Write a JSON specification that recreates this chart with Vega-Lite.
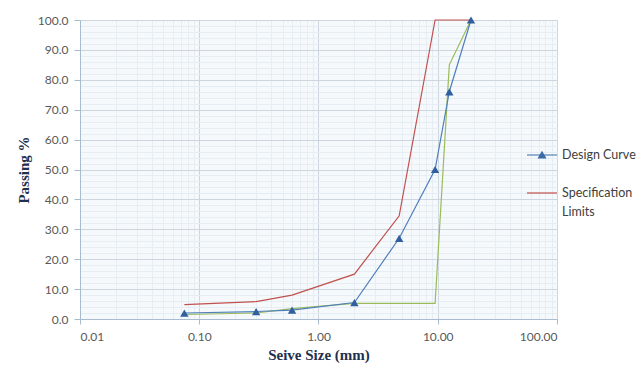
{
  "$schema": "https://vega.github.io/schema/vega-lite/v6.json",
  "width": 477,
  "height": 299,
  "autosize": "none",
  "padding": {"left": 80, "top": 20, "right": 82, "bottom": 48},
  "background": "#ffffff",
  "config": {"view": {"fill": "#f6f9fc", "stroke": null}, "font": "Lato", "style": {"guide-label": {"lineHeight": 19}}},
  "data": {
    "values": [
      {"size": 0.075, "passing": 2.0, "series": "Design Curve"},
      {"size": 0.3, "passing": 2.5, "series": "Design Curve"},
      {"size": 0.6, "passing": 3.0, "series": "Design Curve"},
      {"size": 2.0, "passing": 5.5, "series": "Design Curve"},
      {"size": 4.75, "passing": 27.0, "series": "Design Curve"},
      {"size": 9.5, "passing": 50.0, "series": "Design Curve"},
      {"size": 12.5, "passing": 76.0, "series": "Design Curve"},
      {"size": 19.0, "passing": 100.0, "series": "Design Curve"},
      {"size": 0.075, "passing": 4.8, "series": "Specification Limits"},
      {"size": 0.3, "passing": 5.8, "series": "Specification Limits"},
      {"size": 0.6, "passing": 8.0, "series": "Specification Limits"},
      {"size": 2.0, "passing": 15.0, "series": "Specification Limits"},
      {"size": 4.75, "passing": 34.5, "series": "Specification Limits"},
      {"size": 9.5, "passing": 100.0, "series": "Specification Limits"},
      {"size": 19.0, "passing": 100.0, "series": "Specification Limits"},
      {"size": 0.075, "passing": 1.5, "series": "Lower Limit"},
      {"size": 0.3, "passing": 2.0, "series": "Lower Limit"},
      {"size": 0.6, "passing": 3.5, "series": "Lower Limit"},
      {"size": 2.0, "passing": 5.2, "series": "Lower Limit"},
      {"size": 4.75, "passing": 5.2, "series": "Lower Limit"},
      {"size": 9.5, "passing": 5.2, "series": "Lower Limit"},
      {"size": 12.5, "passing": 85.0, "series": "Lower Limit"},
      {"size": 19.0, "passing": 100.0, "series": "Lower Limit"}
    ]
  },
  "layer": [
    {
      "transform": [{"filter": "datum.series == 'none'"}],
      "mark": {"type": "point", "filled": true, "opacity": 1},
      "encoding": {
        "x": {
          "field": "size", "type": "quantitative",
          "scale": {"type": "log", "domain": [0.01, 100], "nice": false},
          "axis": {
            "values": [0.02,0.03,0.04,0.05,0.06,0.07,0.08,0.09,0.2,0.3,0.4,0.5,0.6,0.7,0.8,0.9,2,3,4,5,6,7,8,9,20,30,40,50,60,70,80,90],
            "grid": true, "gridColor": "#e6edf3", "gridWidth": 1,
            "labels": false, "ticks": false, "domain": false, "title": null, "orient": "top"
          }
        },
        "y": {
          "field": "passing", "type": "quantitative",
          "scale": {"domain": [0, 100], "nice": false},
          "axis": {
            "values": [2,4,6,8,12,14,16,18,22,24,26,28,32,34,36,38,42,44,46,48,52,54,56,58,62,64,66,68,72,74,76,78,82,84,86,88,92,94,96,98],
            "grid": true, "gridColor": "#e6edf3", "gridWidth": 1,
            "labels": false, "ticks": false, "domain": false, "title": null, "orient": "right"
          }
        },
        "color": {
          "field": "series", "type": "nominal",
          "scale": {"domain": ["Design Curve", "Specification Limits"], "range": ["#3a6aa8", "#c0504d"]},
          "legend": {
            "orient": "none", "legendX": 452, "legendY": 125, "padding": 0,
            "title": null, "symbolSize": 400, "symbolStrokeWidth": 0,
            "labelOffset": 10, "rowPadding": 21, "labelFontSize": 12.5,
            "labelFont": "Lato", "labelColor": "#404040", "labelLimit": 200,
            "labelExpr": "datum.label == 'Specification Limits' ? ['Specification', 'Limits'] : datum.label"
          }
        },
        "shape": {
          "field": "series", "type": "nominal",
          "scale": {
            "domain": ["Design Curve", "Specification Limits"],
            "range": ["M-1.5,-0.06H1.5V0.06H-1.5Z M-0.45,0.35L0,-0.42L0.45,0.35Z", "M-1.5,-0.06H1.5V0.06H-1.5Z"]
          },
          "legend": {
            "orient": "none", "legendX": 452, "legendY": 125, "padding": 0,
            "title": null, "symbolSize": 400, "symbolStrokeWidth": 0,
            "labelOffset": 10, "rowPadding": 21, "labelFontSize": 12.5,
            "labelFont": "Lato", "labelColor": "#404040", "labelLimit": 200,
            "labelExpr": "datum.label == 'Specification Limits' ? ['Specification', 'Limits'] : datum.label"
          }
        }
      }
    },
    {
      "transform": [{"filter": "datum.series == 'Lower Limit'"}],
      "mark": {"type": "line", "color": "#9bbb59", "strokeWidth": 1.2},
      "encoding": {
        "x": {
          "field": "size", "type": "quantitative",
          "scale": {"type": "log", "domain": [0.01, 100], "nice": false},
          "axis": {
            "orient": "bottom", "values": [0.01, 0.1, 1, 10, 100], "format": ".2f",
            "grid": true, "gridColor": "#cdd6df", "domainColor": "#a9bccf", "tickColor": "#a9bccf",
            "tickSize": 5, "labelFont": "Lato", "labelFontSize": 12, "labelColor": "#595959", "labelPadding": 7,
            "title": "Seive Size (mm)", "titleFont": "Liberation Serif", "titleFontSize": 15,
            "titleFontWeight": "bold", "titleColor": "#1f3050", "titlePadding": 5
          }
        },
        "y": {
          "field": "passing", "type": "quantitative",
          "scale": {"domain": [0, 100], "nice": false},
          "axis": {
            "orient": "left", "values": [0,10,20,30,40,50,60,70,80,90,100], "format": ".1f",
            "grid": true, "gridColor": "#cdd6df", "domainColor": "#a9bccf", "tickColor": "#a9bccf",
            "tickSize": 6, "labelFont": "Lato", "labelFontSize": 12, "labelColor": "#595959", "labelPadding": 6,
            "title": "Passing %", "titleFont": "Liberation Serif", "titleFontSize": 15,
            "titleFontWeight": "bold", "titleColor": "#1f3050", "titlePadding": 6
          }
        }
      }
    },
    {
      "transform": [{"filter": "datum.series == 'Specification Limits'"}],
      "mark": {"type": "line", "color": "#c0504d", "strokeWidth": 1.2},
      "encoding": {
        "x": {"field": "size", "type": "quantitative", "axis": null},
        "y": {"field": "passing", "type": "quantitative", "axis": null}
      }
    },
    {
      "transform": [{"filter": "datum.series == 'Design Curve'"}],
      "mark": {"type": "line", "color": "#4f7fbc", "strokeWidth": 1.2},
      "encoding": {
        "x": {"field": "size", "type": "quantitative", "axis": null},
        "y": {"field": "passing", "type": "quantitative", "axis": null}
      }
    },
    {
      "transform": [{"filter": "datum.series == 'Design Curve'"}],
      "mark": {"type": "point", "shape": "triangle-up", "filled": true, "size": 70, "color": "#2f5f9e", "opacity": 1},
      "encoding": {
        "x": {"field": "size", "type": "quantitative", "axis": null},
        "y": {"field": "passing", "type": "quantitative", "axis": null}
      }
    }
  ],
  "resolve": {"axis": {"x": "independent", "y": "independent"}}
}
